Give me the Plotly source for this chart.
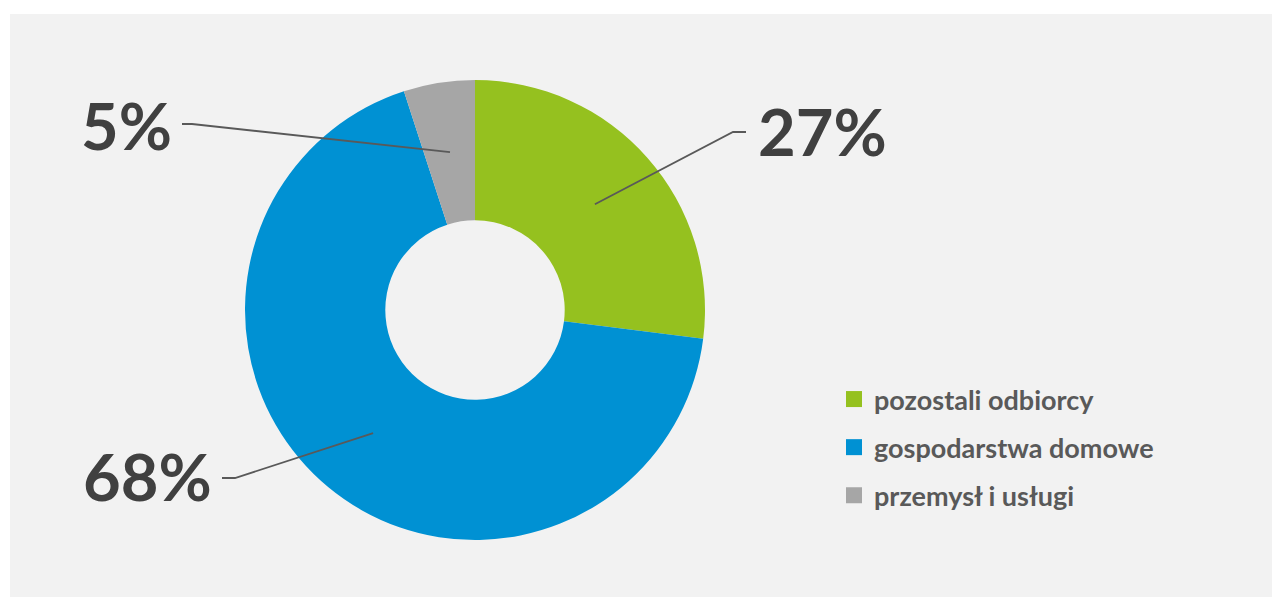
import math
import plotly.graph_objects as go

# ---- data ----
categories = ["pozostali odbiorcy", "gospodarstwa domowe", "przemysł i usługi"]
values = [27, 68, 5]
labels_pct = ["27%", "68%", "5%"]
colors = ["#95C11F", "#0091D3", "#A6A6A6"]

# ---- layout constants (page pixels) ----
PAGE_W, PAGE_H = 1280, 597
OFF = 8  # default body margin of the html page
W, H = PAGE_W - OFF, PAGE_H - OFF
CX, CY, R = 475, 310, 230
HOLE = 0.39
FONT = "Lato"


def px(x):
    return (x - OFF) / W


def py(y):
    return (H - (y - OFF)) / H


fig = go.Figure()

fig.add_trace(go.Pie(
    labels=categories,
    values=values,
    marker=dict(colors=colors, line=dict(width=0)),
    hole=HOLE,
    sort=False,
    direction="clockwise",
    rotation=0,
    textinfo="none",
    hoverinfo="label+percent",
    showlegend=False,
    domain=dict(x=[px(CX - R), px(CX + R)], y=[py(CY + R), py(CY - R)]),
))

# legend entries
for cat, col in zip(categories, colors):
    fig.add_trace(go.Scatter(
        x=[None], y=[None], mode="markers", name=cat, legendgroup=cat,
        marker=dict(symbol="square", size=17, color=col),
        showlegend=True,
    ))

# leader lines + labels computed from slice midpoints
total = sum(values)
elbows = {"27%": (733, 132, 746, "left", 756, 131),
          "68%": (235, 478, 222, "right", 214, 476),
          "5%": (192, 124, 182, "right", 174, 125)}
shapes = [dict(type="rect", xref="paper", yref="paper", x0=px(10), x1=1, y0=0, y1=py(14),
               fillcolor="#F2F2F2", line=dict(width=0), layer="below")]
annotations = []
cum = 0
r_anchor = R * (1 + HOLE) / 2
for v, lab in zip(values, labels_pct):
    mid = (cum + v / 2) / total * 2 * math.pi
    cum += v
    ax = CX + r_anchor * math.sin(mid)
    ay = CY - r_anchor * math.cos(mid)
    ex, ey, hx, anchor, tx, ty = elbows[lab]
    shapes.append(dict(type="path", xref="paper", yref="paper",
                       path=f"M {px(ax)},{py(ay)} L {px(ex)},{py(ey)} L {px(hx)},{py(ey)}",
                       line=dict(color="#595959", width=1.8)))
    annotations.append(dict(xref="paper", yref="paper", x=px(tx), y=py(ty), text=lab,
                            showarrow=False, xanchor=anchor, yanchor="middle",
                            font=dict(family=FONT, size=65, color="#404040", weight="bold")))

fig.update_layout(
    width=W, height=H,
    margin=dict(l=0, r=0, t=0, b=0),
    paper_bgcolor="white",
    plot_bgcolor="rgba(0,0,0,0)",
    xaxis=dict(visible=False),
    yaxis=dict(visible=False),
    shapes=shapes,
    annotations=annotations,
    legend=dict(x=px(834), y=py(375), xanchor="left", yanchor="top",
                font=dict(family=FONT, size=27, color="#595959", weight="bold"),
                bgcolor="rgba(0,0,0,0)", tracegroupgap=10, itemsizing="trace"),
    showlegend=True,
)

fig.write_html("out.html")
